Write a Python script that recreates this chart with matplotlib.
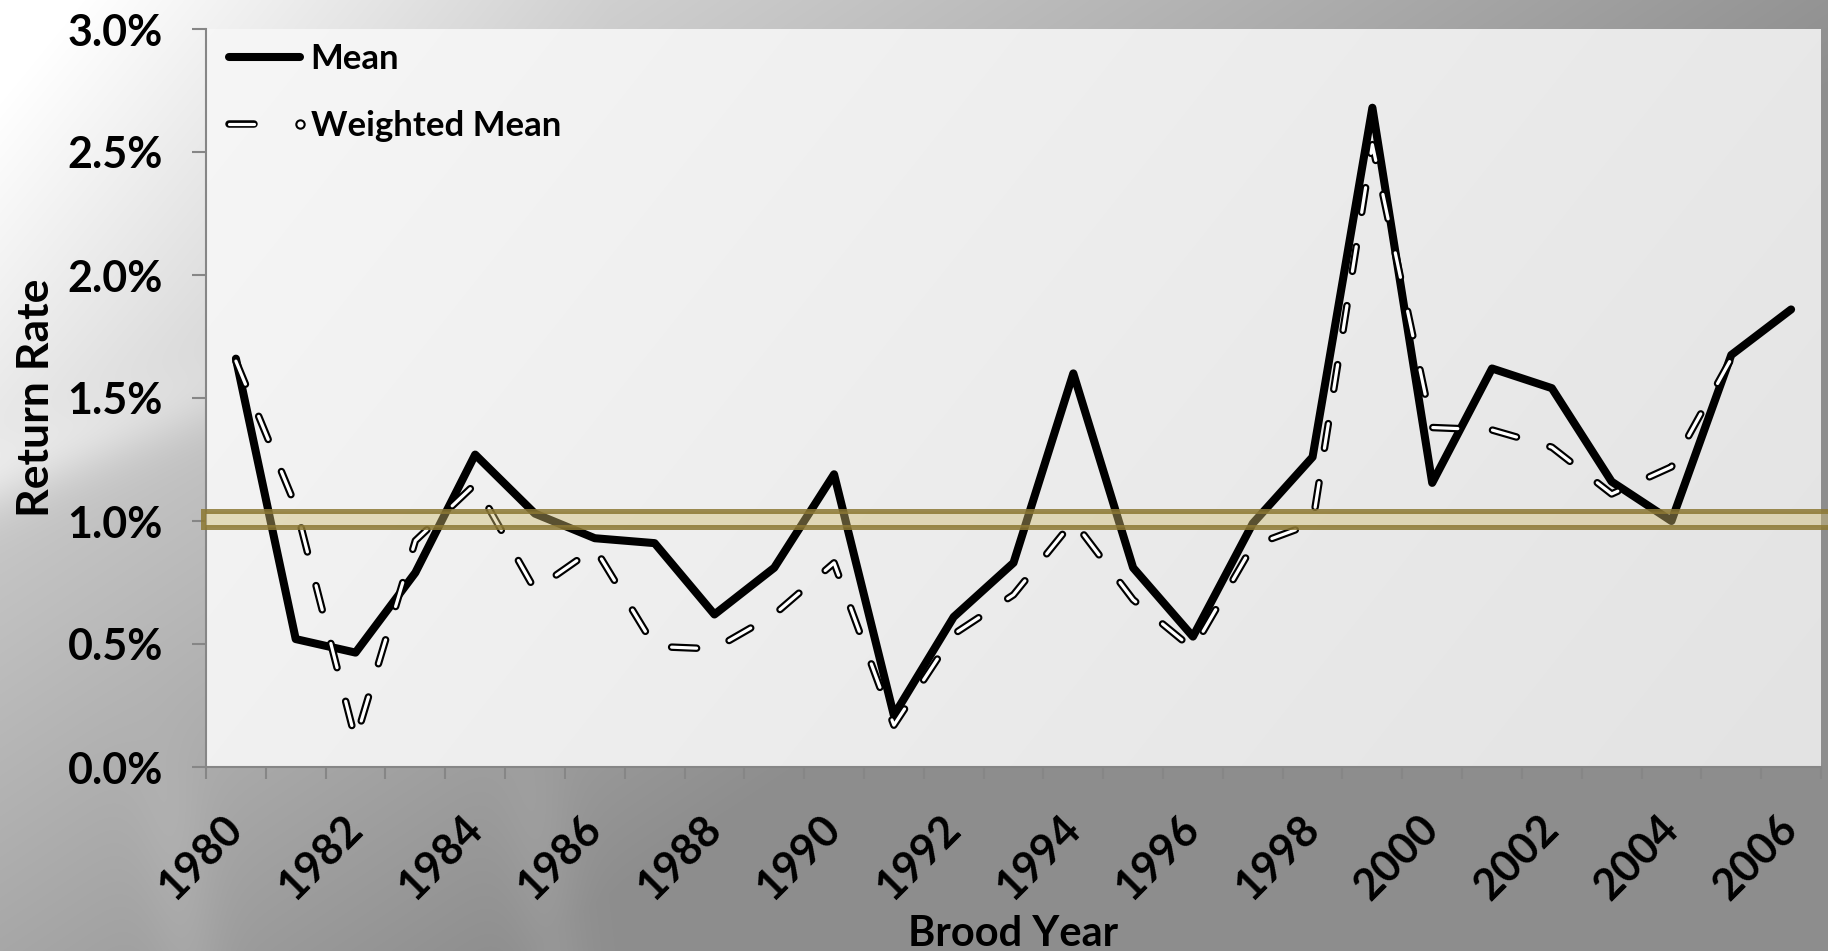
import numpy as np
import matplotlib
matplotlib.use('Agg')
import matplotlib.pyplot as plt
import matplotlib.patheffects as pe
from matplotlib.lines import Line2D
from matplotlib.legend_handler import HandlerLine2D
from matplotlib.ticker import FuncFormatter

plt.rcParams['font.family'] = ['Lato', 'DejaVu Sans']
plt.rcParams['font.weight'] = 'bold'
plt.rcParams['axes.labelweight'] = 'bold'
plt.rcParams['lines.scale_dashes'] = False

# data (return rate, %)
years = list(range(1980, 2007))
mean_rate = [1.66, 0.52, 0.465, 0.79, 1.27, 1.03, 0.93, 0.91, 0.62, 0.81,
             1.19, 0.21, 0.61, 0.83, 1.60, 0.81, 0.53, 0.99, 1.26, 2.68,
             1.155, 1.62, 1.54, 1.16, 1.00, 1.675, 1.86]
weighted_rate = [1.65, 1.06, 0.11, 0.92, 1.15, 0.72, 0.89, 0.49, 0.48, 0.62,
                 0.83, 0.17, 0.54, 0.70, 1.00, 0.68, 0.48, 0.90, 0.99, 2.53,
                 1.38, 1.37, 1.30, 1.11, 1.22, 1.66, np.nan]
y_ticks = [0.0, 0.5, 1.0, 1.5, 2.0, 2.5, 3.0]
band_low, band_high = 0.976, 1.041   # 1% reference band

W, H = 1828, 951
fig = plt.figure(figsize=(W / 100, H / 100), dpi=100)
pl, pr, pt, pb = 206, 1821, 29, 767   # plot area in pixels
ax_rect = [pl / W, 1 - pb / H, (pr - pl) / W, (pb - pt) / H]

# slide style background
yy, xx = np.mgrid[0:H, 0:W]
xn, yn = xx / W, yy / H
v = 0.93 - 0.5 * (0.7 * xn + 0.55 * yn)
v = np.clip(v, 0.555, 1)
d = yn - (0.50 - 0.75 * xn)
v += 0.10 * np.clip(1 - xn * 3, 0, 1) * (1 / (1 + np.exp(d / 0.02)))
v += 0.06 * np.exp(-(d / 0.04) ** 2) * np.clip(1 - xn * 3, 0, 1)
low = 1 / (1 + np.exp(-(yn - 0.82) / 0.03))
for x0 in (0.09, 0.29):
    s = xn - (x0 + 0.06 * (yn - 0.8))
    v += 0.035 * np.exp(-(s / 0.02) ** 2) * low
inside = (xx >= pl) & (xx < pr) & (yy >= pt) & (yy < pb)
px = (xx - pl) / (pr - pl)
py = (yy - pt) / (pb - pt)
v = np.where(inside, 0.965 - 0.055 * px - 0.02 * py, v)
v = np.clip(v, 0, 1)
bg = fig.add_axes([0, 0, 1, 1], zorder=-10)
bg.imshow(np.dstack([v, v, v]), extent=[0, 1, 0, 1], aspect='auto')
bg.axis('off')

ax = fig.add_axes(ax_rect)
ax.set_facecolor('none')
x = np.arange(len(years))

mean_line, = ax.plot(x, mean_rate, color='black', lw=5.8,
                     solid_joinstyle='round', solid_capstyle='round',
                     zorder=3, label='Mean')
dash_fx = [pe.Stroke(linewidth=5.4, foreground='black'), pe.Normal()]
ax.plot(x, weighted_rate, color='white', lw=2.3, linestyle=(0, (18, 25)),
        dash_capstyle='round', dash_joinstyle='round',
        path_effects=dash_fx, zorder=4)

ax.axhspan(band_low, band_high, xmin=-0.002, xmax=1.006,
           facecolor=(0.81, 0.735, 0.44, 0.43),
           edgecolor=(0.55, 0.47, 0.2, 0.85), lw=3.6, zorder=5, clip_on=False)

ax.set_xlim(-0.5, len(years) - 0.5)
ax.set_ylim(0, 3.0)

gray = '#868686'
for side in ('top', 'right'):
    ax.spines[side].set_visible(False)
for side in ('left', 'bottom'):
    ax.spines[side].set_color(gray)
    ax.spines[side].set_linewidth(1.5)

ax.set_yticks(y_ticks)
ax.yaxis.set_major_formatter(FuncFormatter(lambda val, pos: f'{val:.1f}%'))
ax.tick_params(axis='y', length=10, width=1.5, color=gray, pad=21,
               labelsize=31)

ax.set_xticks(x[::2], [str(yr) for yr in years[::2]], rotation=45,
              ha='right', va='center', rotation_mode='anchor')
ax.set_xticks(np.arange(-0.5, len(years), 1), minor=True)
ax.tick_params(axis='x', which='major', length=0, pad=40, labelsize=31)
ax.tick_params(axis='x', which='minor', length=8.6, width=1.5, color=gray)

ax.set_xlabel('Brood Year', fontsize=30)
ax.xaxis.set_label_coords(0.5, -0.2)
ax.set_ylabel('Return Rate', fontsize=32, va='center')
ax.yaxis.set_label_coords(-0.105, 0.5)


class EndMarkerHandler(HandlerLine2D):
    # excel style legend key: one dash, marker at the right end
    def create_artists(self, legend, orig_handle, xdescent, ydescent,
                       width, height, fontsize, trans):
        ymid = (height - ydescent) / 2
        line = Line2D([-xdescent, 0.45 * width - xdescent], [ymid, ymid])
        self.update_prop(line, orig_handle, legend)
        line.set_marker('')
        line.set_transform(trans)
        marker = Line2D([width - xdescent], [ymid])
        self.update_prop(marker, orig_handle, legend)
        marker.set_linestyle('None')
        marker.set_path_effects([])
        marker.set_transform(trans)
        return [line, marker]


wm_key = Line2D([], [], color='white', lw=2.3, linestyle=(0, (18, 25)),
                dash_capstyle='round', path_effects=dash_fx,
                marker='o', markersize=6, markerfacecolor='white',
                markeredgecolor='black', markeredgewidth=1.5,
                label='Weighted Mean')
ax.legend(handles=[mean_line, wm_key],
          handler_map={wm_key: EndMarkerHandler()},
          loc='upper left', bbox_to_anchor=(0.0142, 0.981),
          frameon=False, fontsize=25, borderpad=0, borderaxespad=0,
          handlelength=2.05, handletextpad=0.3, labelspacing=1.0)

fig.savefig('out.png', dpi=100)
